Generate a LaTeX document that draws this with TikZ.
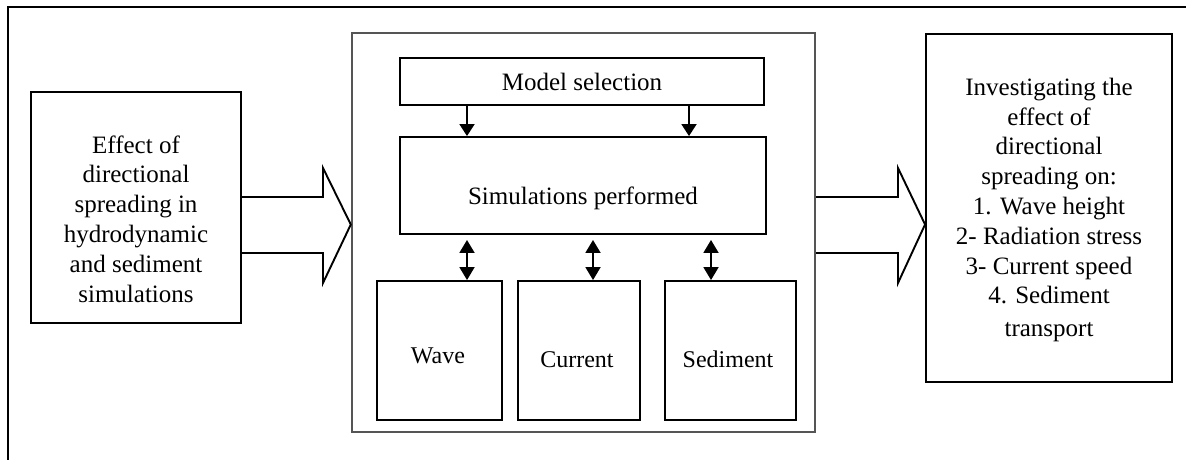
\documentclass[tikz,border=0pt]{standalone}
\usepackage{fontspec}
\setmainfont{Liberation Serif}
\usetikzlibrary{arrows.meta}

\tikzset{
  box/.style={draw=black, line width=1.9pt, inner sep=0pt},
  frameline/.style={draw=black, line width=1.7pt},
  bigbox/.style={draw={rgb,255:red,85;green,85;blue,85}, line width=2.4pt, inner sep=0pt},
  txt/.style={font=\fontsize{25}{29.8}\selectfont, inner sep=0pt, align=center},
  hollow/.style={draw=black, line width=1.9pt, line join=miter},
  arr/.style={draw=black, line width=1.9pt, -{Triangle[length=12pt,width=15pt]}},
  dbl/.style={draw=black, line width=1.9pt, {Triangle[length=13pt,width=15pt]}-{Triangle[length=13pt,width=15pt]}},
}

\begin{document}
\begin{tikzpicture}[x=1pt,y=-1pt]
\useasboundingbox (0,0) rectangle (1186,459);

% page frame: top and left rules only
\coordinate (fTR) at (1186,7);
\coordinate (fTL) at (8,7);
\coordinate (fBL) at (8,460);
\draw[frameline] (fTR) -- (fTL) -- (fBL);

% input box
\node[box, minimum width=210pt, minimum height=231pt] (inbox) at (136,207.5) {};
\node[txt] (intext) at (136,219) {Effect of\\directional\\spreading in\\hydrodynamic\\and sediment\\simulations};

% central block
\node[bigbox, minimum width=463pt, minimum height=399pt] (mid) at (583.5,232.5) {};
\node[box, minimum width=364pt, minimum height=47pt, txt] (model) at (582,81.5) {Model selection};
\node[box, minimum width=366pt, minimum height=97pt] (sim) at (583,185.5) {};
\node[txt, anchor=base] (simtext) at (583,204) {Simulations performed};

\node[box, minimum width=125pt, minimum height=139pt] (wave) at (439.5,350.5) {};
\node[box, minimum width=122pt, minimum height=139pt] (current) at (579,350.5) {};
\node[box, minimum width=131pt, minimum height=139pt] (sediment) at (730.5,350.5) {};
\node[txt, anchor=base, font=\fontsize{24}{28}\selectfont] (wavetext) at (438,363) {Wave};
\node[txt, anchor=base, font=\fontsize{24}{28}\selectfont] (currenttext) at (577,367) {Current};
\node[txt, anchor=base, font=\fontsize{24}{28}\selectfont] (sedimenttext) at (728,367) {Sediment};

% output box
\node[box, minimum width=246pt, minimum height=348pt] (outbox) at (1049,208) {};
\node[txt] (outtext) at (1049,210) {Investigating the\\effect of\\directional\\spreading on:\\1. Wave height\\2- Radiation stress\\3- Current speed\\4. Sediment\\[3pt]transport};

% connectors inside the central block
\draw[arr] (model.south -| 467,0) -- (sim.north -| 467,0);
\draw[arr] (model.south -| 689,0) -- (sim.north -| 689,0);
\draw[dbl, shorten <=5pt] (sim.south -| 467,0) -- (wave.north -| 467,0);
\draw[dbl, shorten <=5pt] (sim.south -| 593,0) -- (current.north -| 593,0);
\draw[dbl, shorten <=5pt] (sim.south -| 711,0) -- (sediment.north -| 711,0);

% hollow block arrows
\draw[hollow] (inbox.east |- 0,197) -- (323,197) -- (323,168) -- (mid.west |- 0,224.5)
  -- (323,283) -- (323,253) -- (inbox.east |- 0,253);
\draw[hollow] (mid.east |- 0,197) -- (898,197) -- (898,168) -- (outbox.west |- 0,224.5)
  -- (898,283) -- (898,253) -- (mid.east |- 0,253);
\end{tikzpicture}
\end{document}
